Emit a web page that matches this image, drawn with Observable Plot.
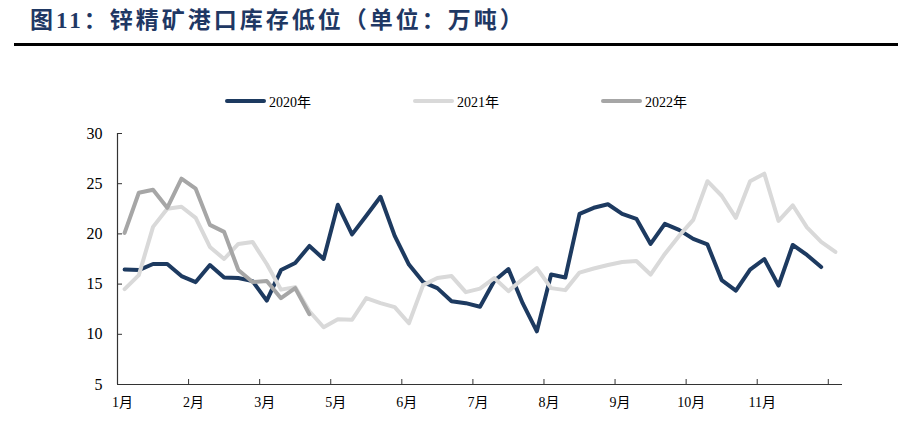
<!DOCTYPE html>
<html>
<head>
<meta charset="utf-8">
<script src="https://cdn.jsdelivr.net/npm/d3@7"></script>
<script src="https://cdn.jsdelivr.net/npm/@observablehq/plot@0.6"></script>
<style>
  html, body { margin: 0; padding: 0; background: #fff; }
  #root { position: relative; width: 898px; height: 423px; overflow: hidden; background: #fff; }
  #title { position: absolute; left: 30px; top: 6px; font-family: "Liberation Serif", "Noto Sans CJK SC", serif; font-weight: bold; font-size: 23px; letter-spacing: 3px; color: #1f3864; white-space: nowrap; line-height: 30px; }
  #rule { position: absolute; left: 14px; top: 43px; width: 884px; height: 3px; background: #000; }
  .lg { position: absolute; top: 92px; height: 18px; display: flex; align-items: center; font-family: "Liberation Serif", "Noto Sans CJK SC", serif; font-size: 14px; color: #000; white-space: nowrap; }
  .sw { width: 41px; height: 4px; border-radius: 2px; margin-right: 3px; }
  #chart { position: absolute; left: 0; top: 118px; }
</style>
</head>
<body>
<div id="root">
  <div id="title">图11：锌精矿港口库存低位（单位：万吨）</div>
  <div id="rule"></div>
  <div id="legend"></div>
  <div id="chart"></div>
</div>
<script>
const seriesNames = ["2020年", "2021年", "2022年"];
const seriesColors = ["#1d3a60", "#d9d9d9", "#a6a6a6"];

const v2020 = [16.45, 16.4, 17.0, 17.0, 15.8, 15.2, 16.9, 15.65, 15.6, 15.3,
  13.35, 16.4, 17.1, 18.8, 17.5, 22.9, 19.95, 21.8, 23.7, 19.8,
  16.95, 15.2, 14.6, 13.3, 13.1, 12.75, 15.3, 16.5, 13.1, 10.3,
  15.95, 15.65, 22.0, 22.6, 22.95, 22.0, 21.5, 19.0, 21.0, 20.4,
  19.5, 18.95, 15.4, 14.35, 16.45, 17.5, 14.85, 18.9, 17.9, 16.7];
const v2021 = [14.5, 15.9, 20.7, 22.5, 22.7, 21.6, 18.7, 17.5, 19.0, 19.2,
  17.0, 14.45, 14.7, 12.3, 10.7, 11.5, 11.45, 13.6, 13.1, 12.7,
  11.1, 14.9, 15.6, 15.8, 14.2, 14.55, 15.6, 14.3, 15.5, 16.6,
  14.6, 14.4, 16.15, 16.55, 16.9, 17.2, 17.3, 15.95, 18.0, 19.8,
  21.4, 25.25, 23.8, 21.6, 25.25, 26.0, 21.3, 22.85, 20.65, 19.2, 18.2];
const v2022 = [20.1, 24.1, 24.4, 22.6, 25.5, 24.5, 20.9, 20.2, 16.4, 15.2, 15.3, 13.6, 14.6, 12.0];

const xTickLabels = ["1月", "2月", "3月", "5月", "6月", "7月", "8月", "9月", "10月", "11月", ""];
const yTicks = [5, 10, 15, 20, 25, 30];

const allSeries = [v2020, v2021, v2022];
const data = allSeries.flatMap((arr, s) => arr.map((v, i) => ({i, v, s: seriesNames[s]})));
const xTicks = xTickLabels.map((_, k) => k * 5 - 0.5);

// legend
const legendX = [225, 413, 601];
const legend = document.getElementById("legend");
seriesNames.forEach((n, k) => {
  const d = document.createElement("div");
  d.className = "lg";
  d.style.left = legendX[k] + "px";
  d.innerHTML = `<span class="sw" style="background:${seriesColors[k]}"></span><span>${n}</span>`;
  legend.appendChild(d);
});

const font = '"Liberation Serif", "Noto Sans CJK SC", serif';
const axisColor = "#333333";

const chart = Plot.plot({
  width: 898,
  height: 305,
  marginTop: 15,
  marginBottom: 39,
  marginLeft: 117,
  marginRight: 56,
  style: {fontFamily: font, fontSize: "15px", color: "#000", background: "transparent"},
  x: {domain: [-0.5, 50.5], axis: null},
  y: {domain: [5, 30], axis: null},
  color: {domain: seriesNames, range: seriesColors},
  marks: [
    Plot.axisY({ticks: yTicks, tickSize: -5, tickPadding: 20, stroke: axisColor, fill: "#000", fontSize: 16, label: null}),
    Plot.axisX({ticks: xTicks, tickSize: -5, tickFormat: () => "", stroke: axisColor, label: null}),
    Plot.axisX({ticks: xTicks, tickSize: 0, tickPadding: 13, dx: 5, tickFormat: (d, k) => xTickLabels[k], fill: "#000", fontSize: 14, label: null}),
    Plot.ruleY([5], {stroke: axisColor, strokeWidth: 1.2}),
    Plot.ruleX([-0.5], {stroke: axisColor, strokeWidth: 1.2}),
    Plot.line(data, {x: "i", y: "v", z: "s", stroke: "s", strokeWidth: 4, strokeLinejoin: "round", strokeLinecap: "round"})
  ]
});
document.getElementById("chart").appendChild(chart);
</script>
</body>
</html>
